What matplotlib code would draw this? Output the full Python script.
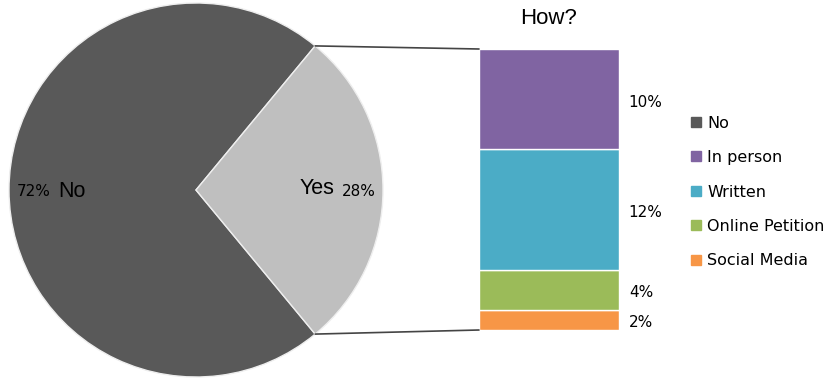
import matplotlib.pyplot as plt
from matplotlib.patches import ConnectionPatch
from matplotlib.lines import Line2D
import numpy as np

# donnees
pie_labels = ["No", "Yes"]
pie_values = [72, 28]
pie_colors = ["#595959", "#BFBFBF"]

how_labels = ["Social Media", "Online Petition", "Written", "In person"]
how_values = [2, 4, 12, 10]
how_colors = ["#F79646", "#9BBB59", "#4BACC6", "#8064A2"]

W, H = 832, 385
fig = plt.figure(figsize=(W / 100, H / 100), dpi=100)

# camembert
cx, cy, r = 196, 190, 187
ax_pie = fig.add_axes([(cx - r) / W, (H - cy - r) / H, 2 * r / W, 2 * r / H])
demi = pie_values[1] / 100 * 360 / 2
wedges, _ = ax_pie.pie(pie_values, colors=pie_colors, startangle=demi,
                       counterclock=True,
                       wedgeprops=dict(edgecolor="#EEEEEE", linewidth=1))
ax_pie.set_xlim(-1, 1)
ax_pie.set_ylim(-1, 1)
ax_pie.set_aspect("equal")
ax_pie.axis("off")

ax_pie.text(-0.96, -0.01, f"{pie_values[0]}%", fontsize=11, va="center",
            ha="left", family="DejaVu Sans")
ax_pie.text(-0.735, -0.01, pie_labels[0], fontsize=15.5, va="center", ha="left",
            family="Liberation Sans")
ax_pie.text(0.555, 0.01, pie_labels[1], fontsize=15.5, va="center", ha="left",
            family="Liberation Sans")
ax_pie.text(0.78, -0.01, f"{pie_values[1]}%", fontsize=11, va="center",
            ha="left", family="DejaVu Sans")

# barre empilee
bx0, bx1, by0, by1 = 479, 619, 49, 330
ax_bar = fig.add_axes([bx0 / W, (H - by1) / H, (bx1 - bx0) / W, (by1 - by0) / H])
bas = 0
for lab, val, col in zip(how_labels, how_values, how_colors):
    ax_bar.bar(0.5, val, width=1, bottom=bas, color=col, edgecolor="white",
               linewidth=1)
    ax_bar.text(1.07, bas + val / 2 - 0.3, f"{val}%", fontsize=11, va="center",
                ha="left", family="DejaVu Sans")
    bas += val
ax_bar.set_xlim(0, 1)
ax_bar.set_ylim(0, sum(how_values))
ax_bar.axis("off")
ax_bar.set_title("How?", fontsize=16, family="Liberation Sans", pad=18)

# lignes de liaison
t = np.deg2rad(demi)
for y_pie, y_bar in [(np.sin(t), sum(how_values)), (-np.sin(t), 0)]:
    con = ConnectionPatch(xyA=(np.cos(t), y_pie), coordsA=ax_pie.transData,
                          xyB=(0, y_bar), coordsB=ax_bar.transData,
                          color="#444444", linewidth=1.2)
    fig.add_artist(con)

# legende
handles = [Line2D([], [], marker="s", linestyle="", markersize=7,
                  color=pie_colors[0], label=pie_labels[0])]
for lab, col in zip(how_labels[::-1], how_colors[::-1]):
    handles.append(Line2D([], [], marker="s", linestyle="", markersize=7,
                          color=col, label=lab))
fig.legend(handles=handles, loc="center left",
           bbox_to_anchor=(691 / W, (H - 192) / H), frameon=False,
           prop=dict(family="DejaVu Sans", size=11.5), handlelength=0.6,
           handletextpad=0.4, labelspacing=1.22, borderpad=0,
           borderaxespad=0)

plt.savefig("out.png", dpi=100)
